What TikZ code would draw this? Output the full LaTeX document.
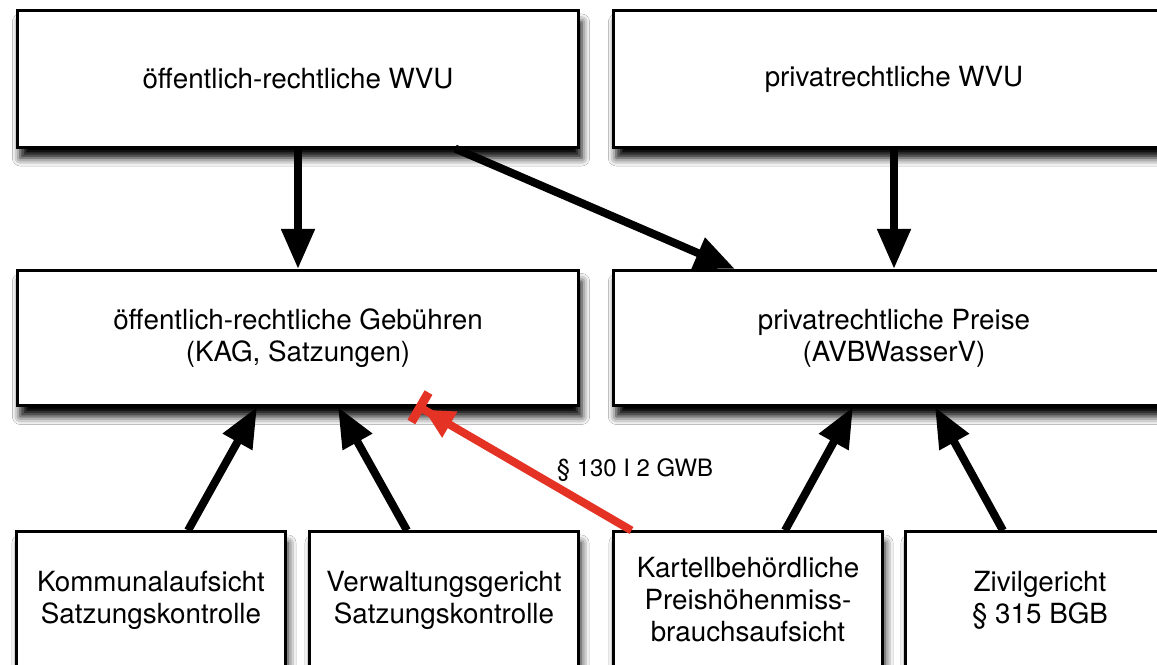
\documentclass[tikz,border=0pt]{standalone}
\usepackage{fontspec}
\setmainfont{TeX Gyre Heros}
\usepackage{tikz}
\usetikzlibrary{arrows.meta,shadows.blur}
\definecolor{gwbrot}{RGB}{228,50,36}

\tikzset{
  kasten/.style={draw=black, line width=0.03cm, fill=white, inner sep=0pt,
    minimum height=1.36cm, align=center,
    font=\fontsize{7.9pt}{9.1pt}\selectfont,
    blur shadow={shadow xshift=0.03cm, shadow yshift=-0.11cm,
      shadow blur radius=0.08cm, shadow opacity=100}},
  grosskasten/.style={kasten, minimum width=5.61cm},
  kleinkasten/.style={kasten, minimum width=2.68cm},
  pfeil/.style={line width=0.08cm, -{Triangle[length=0.4cm,width=0.32cm]}},
  verbot/.style={draw=gwbrot, line width=0.08cm,
    -{Triangle[length=0.3cm,width=0.28cm] Bar[width=0.34cm,line width=0.09cm,sep=0pt]}}
}

\begin{document}
\begin{tikzpicture}[x=0.01cm, y=-0.01cm]
\useasboundingbox (0,0) rectangle (1157,665);
\fill[white] (0,0) rectangle (1157,665);
\clip (0,0) rectangle (1157,665);

% obere Reihe
\node[grosskasten] (wvuoe) at (298,79) {öffentlich-rechtliche WVU};
\node[grosskasten] (wvupr) at (894,79) {privatrechtliche WVU};

% mittlere Reihe
\node[grosskasten, minimum height=1.35cm] (gebuehr) at (298,338)
  {öffentlich-rechtliche Gebühren\\(KAG, Satzungen)};
\node[grosskasten, minimum height=1.35cm] (preise) at (894,338)
  {privatrechtliche Preise\\(AVBWasserV)};

% untere Reihe
\node[kleinkasten] (kommunal) at (151,600) {Kommunalaufsicht\\Satzungskontrolle};
\node[kleinkasten] (verwaltung) at (444,600) {Verwaltungsgericht\\Satzungskontrolle};
\node[kleinkasten] (kartell) at (748,600) {Kartellbehördliche\\Preishöhenmiss-\\brauchsaufsicht};
\node[kleinkasten] (zivil) at (1040,600) {Zivilgericht\\§ 315 BGB};

% Pfeile
\draw[pfeil] (wvuoe) -- (gebuehr);
\draw[pfeil] ([xshift=-1.25cm]wvuoe.south east) -- ([xshift=1.23cm]preise.north west);
\draw[pfeil] (wvupr) -- (preise);
\draw[pfeil] ([xshift=0.37cm]kommunal.north) -- ([xshift=-0.41cm]gebuehr.south);
\draw[pfeil] ([xshift=-0.37cm]verwaltung.north) -- ([xshift=0.40cm]gebuehr.south);
\draw[pfeil] ([xshift=0.37cm]kartell.north) -- ([xshift=-0.41cm]preise.south);
\draw[pfeil] ([xshift=-0.37cm]zivil.north) -- ([xshift=0.41cm]preise.south);
\draw[verbot] ([xshift=0.19cm]kartell.north west) -- ([xshift=1.18cm,yshift=0.02cm]gebuehr.south);

\node[font=\fontsize{6.8pt}{8pt}\selectfont] (gwb) at (635,470) {§ 130 I 2 GWB};
\end{tikzpicture}
\end{document}
